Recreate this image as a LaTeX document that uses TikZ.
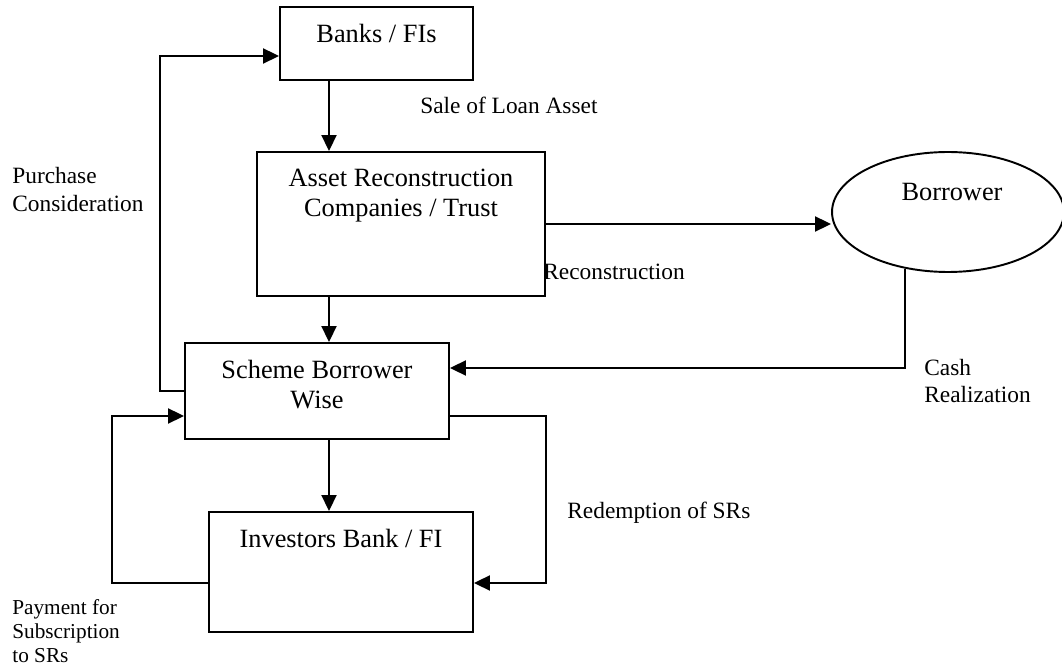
\documentclass[tikz,border=0pt]{standalone}
\usepackage{fontspec}
\setmainfont{Liberation Serif}
\usetikzlibrary{arrows.meta,shapes.geometric}

\begin{document}
\begin{tikzpicture}[
x=0.02cm,y=-0.02cm,
box/.style={rectangle,draw,line width=1.1pt,inner sep=0pt},
oval/.style={ellipse,draw,line width=1.1pt,inner sep=0pt},
boxtext/.style={anchor=north,align=center,inner sep=0pt,yshift=-0.36cm,font=\fontsize{15}{17}\selectfont},
lbl/.style={anchor=west,align=left,inner sep=0pt,font=\fontsize{13.3}{15.6}\selectfont},
arrow/.style={-{Triangle[length=0.32cm,width=0.3cm]},line width=1.1pt}
]
\useasboundingbox (0,0) rectangle (1062,665);

% boxes
\node[box,minimum width=3.86cm,minimum height=1.46cm,label={[boxtext]north:Banks / FIs}] (banks) at (376.5,43.5) {};
\node[box,minimum width=5.76cm,minimum height=2.88cm,label={[boxtext]north:Asset Reconstruction\\Companies / Trust}] (arc) at (401,224) {};
\node[box,minimum width=5.28cm,minimum height=1.92cm,label={[boxtext]north:Scheme Borrower\\Wise}] (scheme) at (317,391) {};
\node[box,minimum width=5.28cm,minimum height=2.4cm,label={[boxtext]north:Investors Bank / FI}] (investors) at (341,572) {};
\node[oval,minimum width=4.64cm,minimum height=2.4cm,label={[boxtext,yshift=-0.28cm,xshift=0.08cm]north:Borrower}] (borrower) at (948,212) {};

% flow labels
\node[lbl] (sale) at (420,105) {Sale of Loan Asset};
\node[lbl] (purchase) at (12,189.5) {Purchase\\Consideration};
\node[lbl] (recon) at (543,272) {Reconstruction};
\node[lbl] (cash) at (924,381) {Cash\\Realization};
\node[lbl] (redeem) at (567,513) {Redemption of SRs};
\node[lbl,font=\fontsize{12.1}{13.7}\selectfont] (payment) at (12,631) {Payment for\\Subscription\\to SRs};

% arrows
\coordinate (spine) at (329,0);
\draw[arrow] (banks.south -| spine) -- (arc.north -| spine);
\draw[arrow] (arc.south -| spine) -- (scheme.north -| spine);
\draw[arrow] (scheme.south -| spine) -- (investors.north -| spine);
\draw[arrow] (arc.east) -- (arc.east -| borrower.west);
\draw[arrow] (borrower.233) |- ([yshift=0.46cm]scheme.east);
\draw[arrow] (scheme.west) -- ++(-24,0) |- ([yshift=-0.25cm]banks.west);
\draw[arrow] ([yshift=-0.22cm]investors.west) -- ++(-96,0) |- ([yshift=-0.5cm]scheme.west);
\draw[arrow] ([yshift=-0.5cm]scheme.east) -- ++(96,0) |- ([yshift=-0.22cm]investors.east);
\end{tikzpicture}
\end{document}
